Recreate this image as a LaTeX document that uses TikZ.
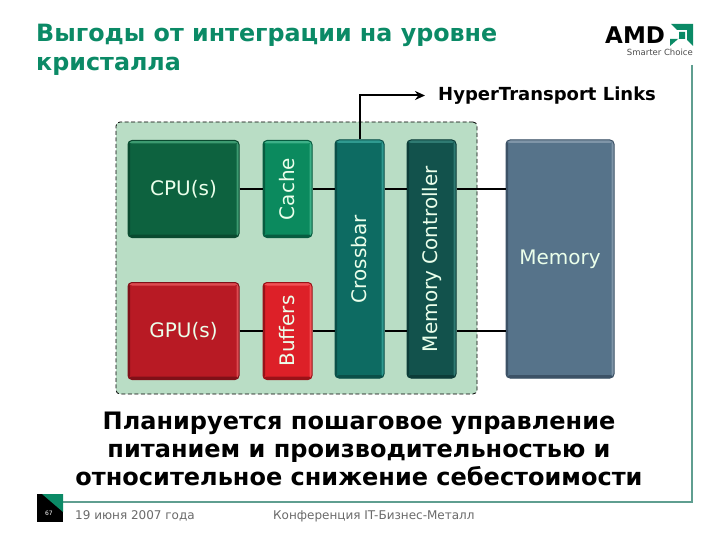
\documentclass[tikz,border=0pt]{standalone}
\usepackage{fontspec}
\usetikzlibrary{arrows.meta}
\setmainfont{DejaVu Sans}
\definecolor{amdgreen}{HTML}{0B8A66}
\definecolor{panelgreen}{HTML}{B9DDC5}
\definecolor{framegreen}{HTML}{5F9E90}
\definecolor{footgray}{HTML}{6A6A6A}
\definecolor{cpufill}{HTML}{0D623F}
\definecolor{cpulight}{HTML}{3C9A70}
\definecolor{cpudark}{HTML}{0A4A30}
\definecolor{cachefill}{HTML}{0B8A5E}
\definecolor{cachelight}{HTML}{3DB088}
\definecolor{cachedark}{HTML}{075C40}
\definecolor{xbarfill}{HTML}{0D6B62}
\definecolor{xbarlight}{HTML}{2F9A90}
\definecolor{xbardark}{HTML}{0A4F48}
\definecolor{mctlfill}{HTML}{12524C}
\definecolor{mctllight}{HTML}{2F7A72}
\definecolor{mctldark}{HTML}{0C3C38}
\definecolor{memfill}{HTML}{56738A}
\definecolor{memlight}{HTML}{7F95A8}
\definecolor{memdark}{HTML}{3C5266}
\definecolor{gpufill}{HTML}{B81A24}
\definecolor{gpulight}{HTML}{DD4A50}
\definecolor{gpudark}{HTML}{7F1018}
\definecolor{buffill}{HTML}{DD2028}
\definecolor{buflight}{HTML}{F25055}
\definecolor{bufdark}{HTML}{9A1218}
\tikzset{
block/.style n args={3}{fill=#1, draw=#3, line width=1pt, rounded corners=4pt, inner sep=0pt,
 text=white!92!green, font=\fontsize{20}{24}\selectfont,
 path picture={
 \fill[#2] (path picture bounding box.north west) rectangle ([yshift=-3pt]path picture bounding box.north east);
 \fill[#2] (path picture bounding box.north east) rectangle ([xshift=-2.5pt]path picture bounding box.south east);
 \fill[#3] (path picture bounding box.south west) rectangle ([yshift=3pt]path picture bounding box.south east);
 \fill[#3] (path picture bounding box.north west) rectangle ([xshift=2pt]path picture bounding box.south west);
 }},
wide/.style={minimum width=111pt, minimum height=97pt},
slim/.style={minimum width=49pt, minimum height=97pt},
tall/.style={minimum width=49pt, minimum height=238pt},
link/.style={draw=black, line width=2pt},
slogan/.style={font=\fontsize{24}{28}\bfseries\selectfont, align=center, text=black}
}
\begin{document}
\begin{tikzpicture}[x=1pt,y=-1pt]
\useasboundingbox[fill=white] (0,0) rectangle (720,540);

% frame and page number
\coordinate (frametop) at (692,65);
\coordinate (framecorner) at (692,502);
\coordinate (frameleft) at (45,502);
\draw[framegreen, line width=1.5pt] (frametop) -- (framecorner) -- (frameleft);
\fill[black] (37,494) rectangle (63,522);
\fill[amdgreen] (42,494) -- (63,494) -- (63,512) -- cycle;
\node[text=white, font=\fontsize{6}{7}\selectfont] (pageno) at (49,513) {67};

% heading
\node[anchor=north west, inner sep=0pt, align=left, text=amdgreen,
 font=\fontsize{23.8}{29}\bfseries\selectfont] (title) at (36,24)
 {Выгоды от интеграции на уровне\\кристалла};

% logo
\node[anchor=west, inner sep=0pt, font=\fontsize{23}{26}\bfseries\selectfont] (amd) at (605,35) {AMD};
\fill[amdgreen] (671,24) -- (693,24) -- (693,46) -- (687,40) -- (687,30) -- (677,30) -- cycle;
\fill[amdgreen] (679,32) -- (685,32) -- (685,39) -- (678,39) -- (670,46) -- (670,39) -- (679,39) -- cycle;
\node[anchor=east, inner sep=0pt, text=black!70, font=\fontsize{8.5}{9}\selectfont] (tagline) at (693,52) {Smarter Choice};

% chip
\node[fill=panelgreen, draw=black, dash pattern=on 4pt off 2.5pt, line width=0.8pt, rounded corners=4pt, inner sep=0pt,
 minimum width=361pt, minimum height=272pt] (panel) at (296.5,258) {};

\node[block={cpufill}{cpulight}{cpudark}, wide] (cpu) at (183.5,189) {CPU(s)};
\node[block={cachefill}{cachelight}{cachedark}, slim] (cache) at (287.5,189) {\rotatebox{90}{Cache}};
\node[block={gpufill}{gpulight}{gpudark}, wide] (gpu) at (183.5,331) {GPU(s)};
\node[block={buffill}{buflight}{bufdark}, slim] (buffers) at (287.5,331) {\rotatebox{90}{Buffers}};
\node[block={xbarfill}{xbarlight}{xbardark}, tall] (crossbar) at (359.5,259) {\rotatebox{90}{Crossbar}};
\node[block={mctlfill}{mctllight}{mctldark}, tall] (memctl) at (431.5,259) {\rotatebox{90}{Memory Controller}};
\node[block={memfill}{memlight}{memdark}, tall, minimum width=108pt] (memory) at (560,259) {Memory};

% links
\draw[link] (cpu) -- (cache);
\draw[link] (cache) -- (cache -| crossbar.west);
\draw[link] (cache -| crossbar.east) -- (cache -| memctl.west);
\draw[link] (cache -| memctl.east) -- (cache -| memory.west);
\draw[link] (gpu) -- (buffers);
\draw[link] (buffers) -- (buffers -| crossbar.west);
\draw[link] (buffers -| crossbar.east) -- (buffers -| memctl.west);
\draw[link] (buffers -| memctl.east) -- (buffers -| memory.west);

\node[anchor=west, inner sep=0pt, font=\fontsize{18}{20}\bfseries\selectfont] (ht) at (438,95.5) {HyperTransport Links};
\draw[link, -{Stealth[length=10pt,width=9pt]}, shorten >=13pt] (crossbar.north) |- (ht.west);

% bottom text
\node[slogan] (claim) at (359,449) {Планируется пошаговое управление\\питанием и производительностью и\\относительное снижение себестоимости};

% footer
\node[anchor=west, inner sep=0pt, text=footgray, font=\fontsize{12}{14}\selectfont] (date) at (75,516) {19 июня 2007 года};
\node[anchor=west, inner sep=0pt, text=footgray, font=\fontsize{12}{14}\selectfont] (event) at (273,516) {Конференция IT-Бизнес-Металл};
\end{tikzpicture}
\end{document}
